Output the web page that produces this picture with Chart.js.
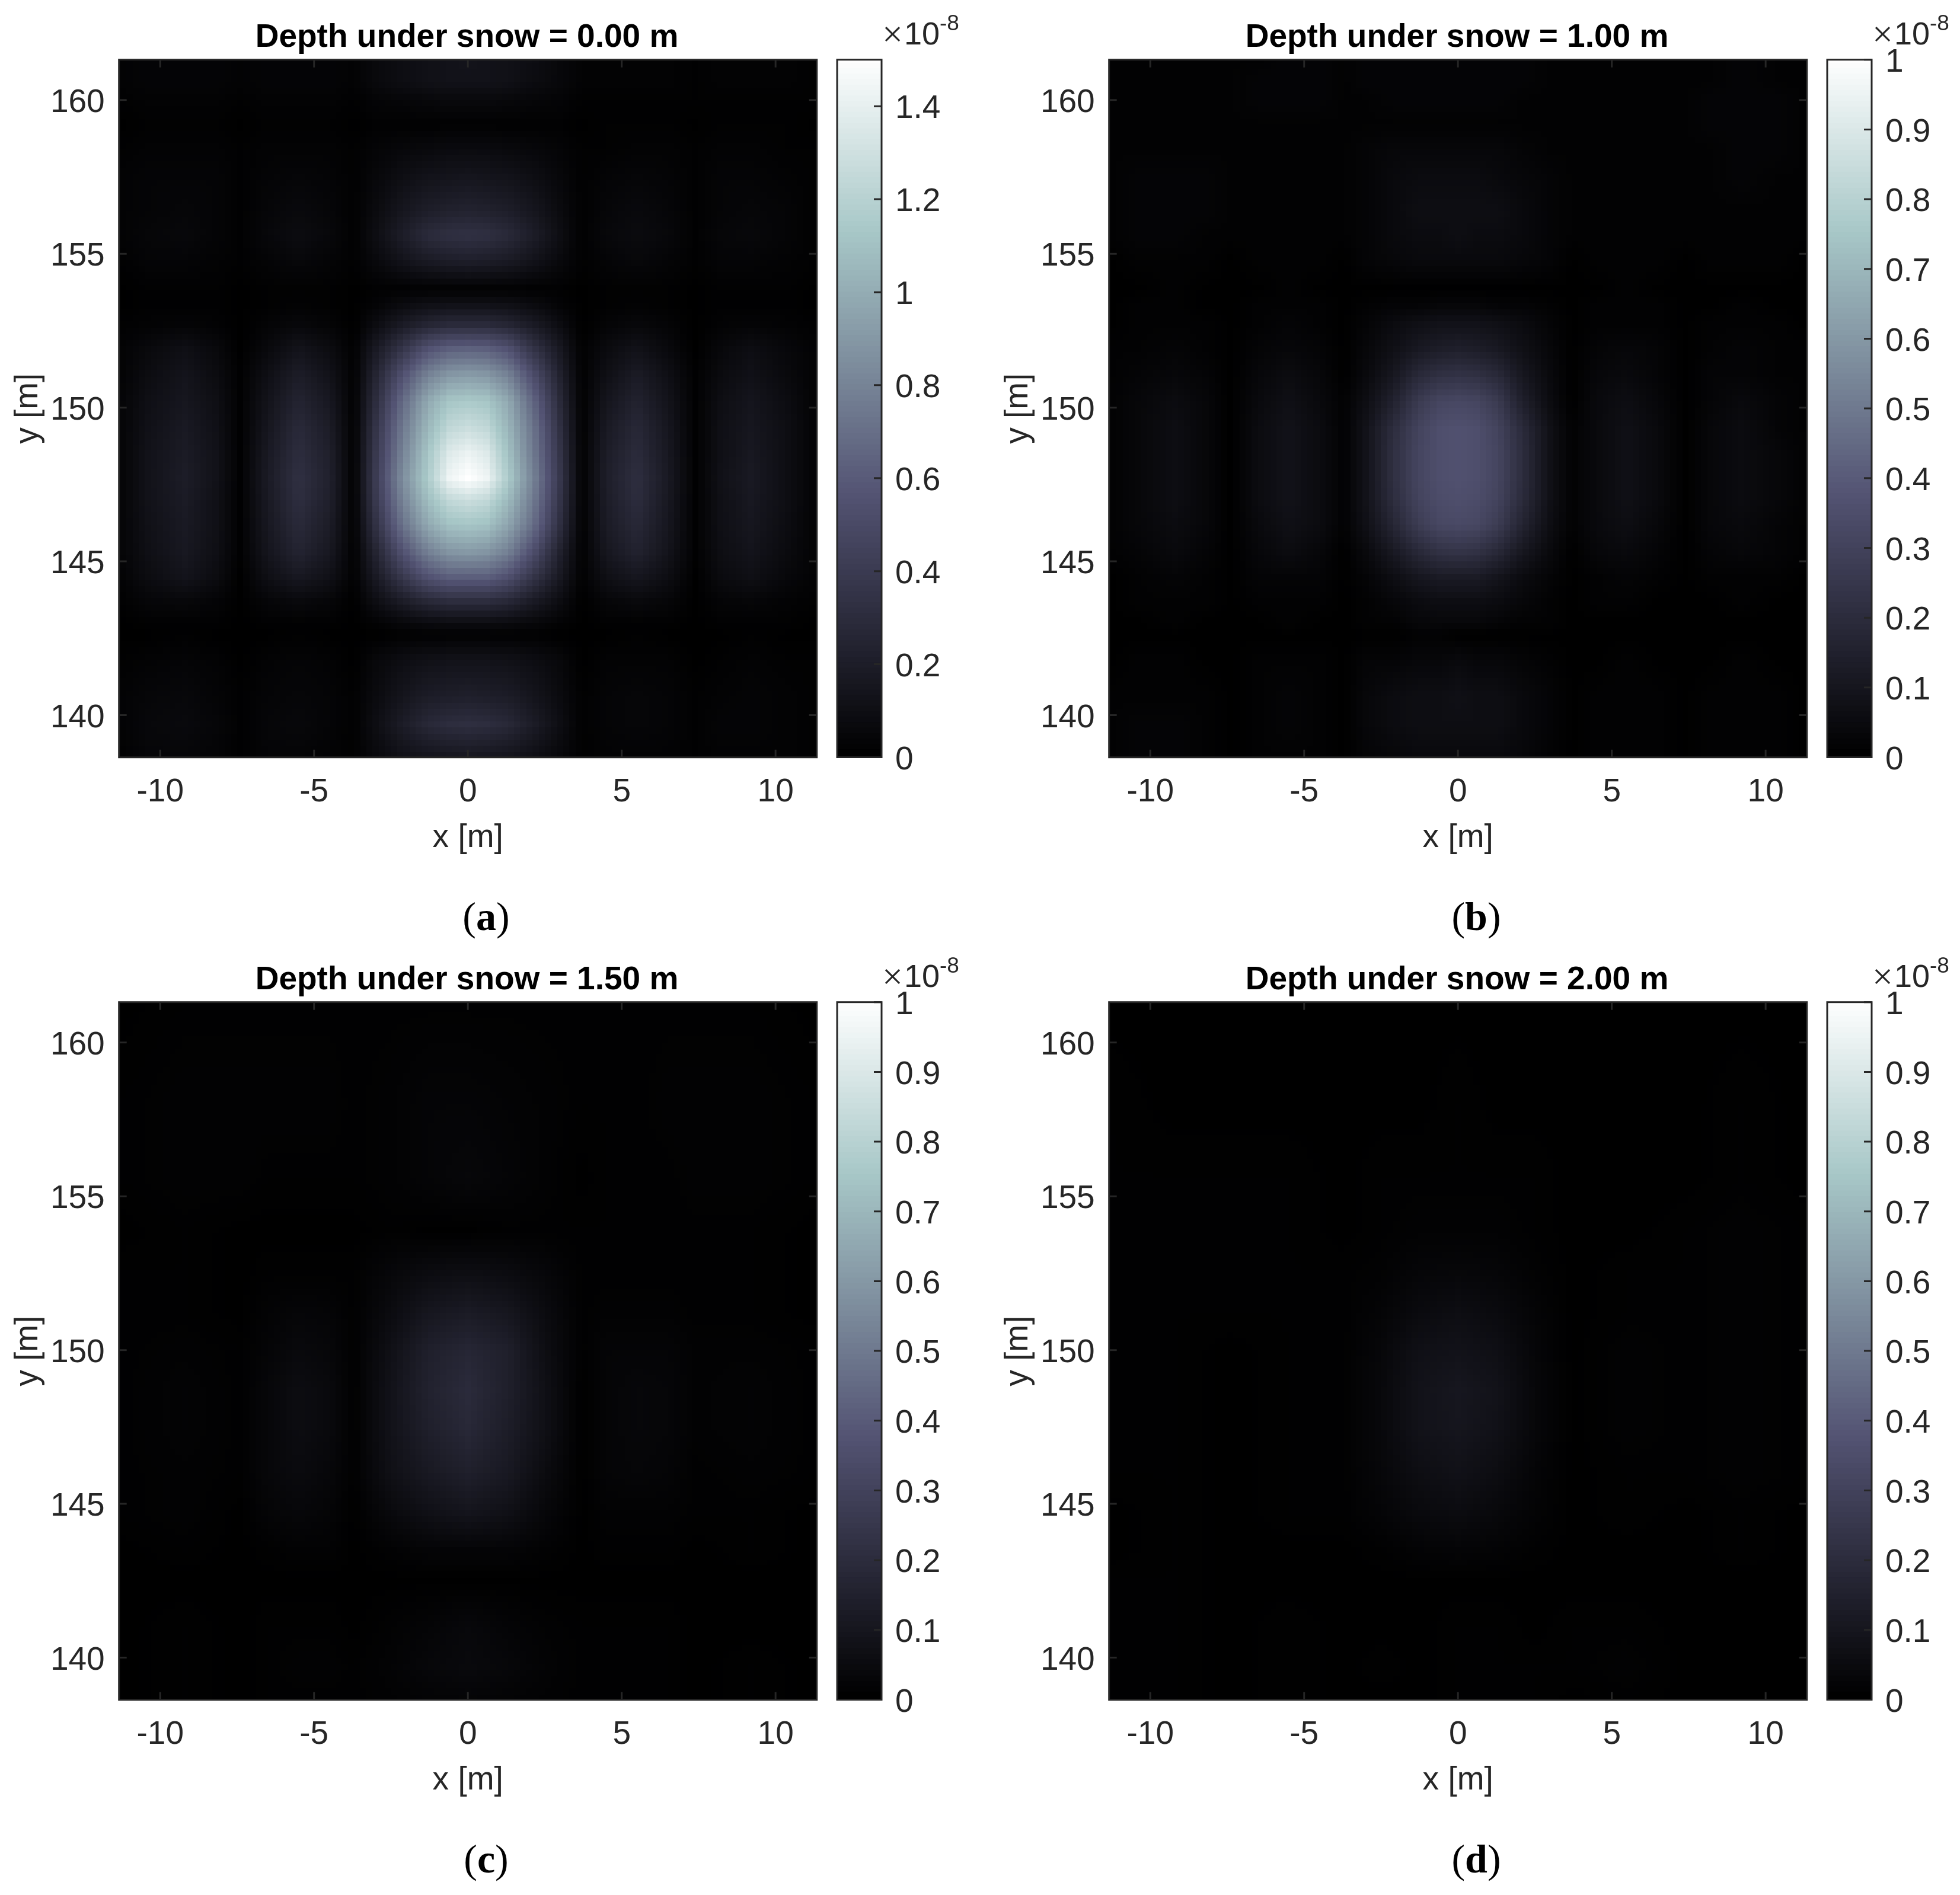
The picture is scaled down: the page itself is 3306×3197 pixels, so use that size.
<!DOCTYPE html>
<html><head><meta charset="utf-8">
<script src="https://cdn.jsdelivr.net/npm/chart.js@4/dist/chart.umd.min.js"></script>
<style>
html,body{margin:0;padding:0;background:#fff}
#root{position:relative;width:3306px;height:3197px;overflow:hidden;background:#fff}
canvas{position:absolute}
.t{position:absolute;white-space:nowrap;color:#262626;font-family:"Liberation Sans",Arial,sans-serif}
.cap{position:absolute;white-space:nowrap;color:#000;font-family:"Liberation Serif",serif;font-size:68px;line-height:68px;transform:translateX(-50%)}
</style></head><body><div id="root"></div>
<script>
// ---------- data (values in units of 1e-10) ----------
const titles = ["Depth under snow = 0.00 m","Depth under snow = 1.00 m","Depth under snow = 1.50 m","Depth under snow = 2.00 m"];
const captions = ["a","b","c","d"];
const xTicks = [-10,-5,0,5,10];
const yTicks = [140,145,150,155,160];
const cbTicksA = [0,0.2,0.4,0.6,0.8,1,1.2,1.4];
const cbTicksB = [0,0.1,0.2,0.3,0.4,0.5,0.6,0.7,0.8,0.9,1];
const cbMax = [1.5,1,1,1];
const fineXs = [-11.3,-10.4,-9.2,-8.2,-7.4,-6.5,-5.5,-4.5,-3.7,-3,-2.1,-1.3,-0.6,0,0.6,1.3,2.1,3,3.7,4.5,5.5,6.5,7.4,8.2,9.2,10.4,11.3];
const fineYs = [161.3,160.6,160,159.2,158.4,157.4,156.4,155.6,154.8,153.85,153.3,152.7,151.9,151.1,150.2,149.3,148.5,147.7,147,146.2,145.3,144.5,143.7,143,142.6,141.8,140.6,139.7,138.6];
const midXs = [-11.3,-9.2,-7.4,-6.5,-5.5,-4.5,-3.7,-2.5,-1.3,0,1.3,2.5,3.7,4.5,5.5,6.5,7.4,9.2,11.3];
const coarseXs = [-11.3,-9.2,-7.4,-5.5,-3.7,-2.5,-1.3,0,1.3,2.5,3.7,5.5,7.4,9.2,11.3];
const coarseYs = [161.3,158,155.6,153.85,152.5,151.2,150,148.7,147.5,146,144.7,143.5,142.5,141,139.7,138.6];
const panelA = [
[2,3,3,3,2,3,3,3,2,6,9,11,12,13,12,11,9,5,2,2,2,2,1,2,2,2,1],
[2,3,3,3,2,3,3,3,2,6,9,11,12,12,12,11,8,5,2,2,2,2,1,2,2,2,1],
[1,2,2,2,1,2,2,2,1,3,4,5,6,6,6,5,4,3,1,1,1,1,1,1,1,1,1],
[0,1,1,1,0,1,1,1,0,1,1,1,1,1,1,1,1,1,0,1,1,1,0,1,1,1,0],
[1,2,2,2,1,2,2,2,1,3,5,6,7,7,7,6,5,3,1,1,2,2,1,2,2,1,1],
[2,3,3,3,1,3,4,3,1,5,10,13,14,15,14,13,10,5,1,3,4,3,1,3,3,2,1],
[2,3,4,3,1,4,6,4,1,7,15,20,22,23,22,20,15,7,1,4,6,4,1,3,4,3,1],
[2,4,5,3,1,5,8,5,1,9,20,29,32,33,32,28,20,9,1,5,7,5,1,4,5,3,1],
[1,3,3,2,1,3,5,3,1,6,13,18,20,21,20,18,13,6,1,3,5,3,1,3,3,2,1],
[0,1,1,1,0,1,1,1,0,1,1,1,1,1,1,1,1,1,0,1,1,1,0,1,1,1,0],
[0,1,1,1,0,1,2,1,0,3,8,11,12,12,12,11,8,3,0,1,2,1,0,1,1,1,0],
[1,2,3,2,0,3,5,3,0,8,18,25,28,28,28,25,18,8,0,3,5,3,0,2,3,2,1],
[2,6,10,6,0,6,13,8,1,17,36,55,62,63,62,55,35,16,1,7,12,6,0,5,9,5,2],
[2,8,13,8,1,10,19,12,1,24,54,78,88,90,88,78,52,22,1,10,18,10,1,7,11,6,2],
[3,10,15,10,1,13,24,16,1,30,68,98,112,114,112,98,66,28,1,14,23,13,1,9,14,8,2],
[3,11,17,11,1,15,28,19,1,35,75,105,124,128,124,104,73,32,1,17,27,15,1,10,15,9,2],
[3,12,18,12,1,17,30,21,1,38,80,112,136,142,136,110,76,35,1,19,29,16,1,10,16,9,2],
[3,12,19,12,1,18,32,22,1,40,85,115,143,150,143,115,80,37,1,20,31,17,1,11,17,9,2],
[3,12,18,11,1,17,31,21,1,38,80,108,124,128,124,106,76,35,1,19,30,16,1,10,16,9,2],
[3,11,17,11,1,16,28,19,1,33,72,98,110,112,110,96,70,31,1,18,27,15,1,10,15,8,2],
[3,10,16,10,1,14,24,16,1,24,55,78,88,90,88,78,53,22,1,15,23,13,1,9,13,7,2],
[2,8,13,8,0,10,16,11,1,17,38,55,62,62,62,54,36,16,1,10,15,9,0,7,10,5,2],
[1,4,5,3,0,4,6,4,0,9,19,27,30,30,30,27,18,8,0,4,6,4,0,3,4,2,1],
[0,1,1,1,0,1,1,1,0,2,5,7,8,8,8,7,5,2,0,1,1,1,0,1,1,1,0],
[0,0,1,0,0,0,1,0,0,0,1,1,1,1,1,1,1,0,0,0,1,0,0,0,1,0,0],
[1,2,3,2,0,2,3,2,0,5,9,11,12,12,12,11,9,5,0,2,2,2,0,1,2,1,1],
[2,4,5,3,1,3,4,3,1,7,14,19,20,21,20,19,14,7,1,3,4,3,1,2,3,2,1],
[2,5,6,4,1,4,5,3,1,9,19,27,30,31,30,27,19,9,1,3,4,3,1,3,3,2,1],
[1,4,4,3,1,3,3,2,1,6,11,13,14,15,14,13,10,5,1,2,2,2,1,2,2,2,1]];
const panelB = [
[1,1,1,1,1,1,2,2,1,2,2,2,2,2,2,2,2,1,1,1,1,1,1,1,2,1,1],
[1,1,1,1,1,2,2,2,1,2,2,2,2,2,2,2,2,1,1,1,1,1,1,1,2,1,1],
[1,1,1,1,1,2,2,2,1,1,2,2,2,2,2,2,1,1,1,1,1,1,1,2,2,2,1],
[1,1,1,1,1,1,1,1,1,1,1,1,1,1,1,1,1,1,1,1,1,1,1,2,2,2,1],
[1,1,1,1,1,1,1,1,1,2,3,3,3,3,3,3,2,1,1,1,1,1,1,1,2,2,1],
[1,2,2,2,1,1,1,1,1,2,4,5,5,5,5,4,3,2,1,1,1,1,1,1,2,1,1],
[1,2,2,2,1,1,1,1,1,2,4,6,6,6,6,6,4,2,1,1,1,1,1,1,1,1,1],
[1,2,2,1,1,1,1,1,1,2,4,5,5,6,5,5,4,2,1,1,1,1,1,1,1,1,1],
[0,1,1,1,0,1,1,1,0,2,3,4,4,4,4,4,3,2,0,1,1,1,0,1,1,1,0],
[0,0,1,0,0,0,1,0,0,0,0,0,0,0,0,0,0,0,0,0,1,0,0,0,0,0,0],
[0,1,1,0,0,1,1,1,0,1,2,2,3,3,3,2,2,1,0,1,1,1,0,0,1,0,0],
[0,1,1,1,0,1,2,1,0,2,5,7,8,8,8,7,5,2,0,1,1,1,0,1,1,1,0],
[1,1,2,1,0,2,3,2,0,3,7,11,13,14,13,11,7,3,0,2,3,2,0,1,2,1,1],
[1,2,3,2,0,3,5,3,0,4,10,18,21,22,21,18,10,4,0,3,4,2,0,2,2,1,1],
[1,3,5,3,0,4,7,4,1,6,15,26,31,32,31,26,14,5,0,4,6,3,0,2,4,2,1],
[1,3,6,3,0,5,8,5,1,8,20,30,35,36,35,30,19,7,1,4,7,4,0,3,5,2,1],
[1,3,6,3,0,5,8,5,1,8,21,31,35,36,35,31,20,7,1,4,7,4,0,3,5,3,1],
[1,3,6,3,0,5,8,5,1,8,21,31,35,36,35,31,20,7,1,4,7,4,0,3,5,3,1],
[1,3,6,3,0,5,8,5,1,8,20,30,34,35,34,30,19,7,1,4,7,4,0,3,5,3,1],
[1,3,5,3,0,4,7,5,1,7,17,27,32,33,32,27,16,6,1,4,6,3,0,3,4,2,1],
[1,2,4,2,0,3,5,3,0,4,11,18,22,23,22,18,10,4,0,3,4,2,0,2,3,2,1],
[0,1,2,1,0,2,2,2,0,2,6,10,12,12,12,9,5,2,0,1,2,1,0,1,1,1,0],
[0,1,1,1,0,1,1,1,0,1,3,5,6,6,6,5,3,1,0,1,1,0,0,0,1,0,0],
[0,0,1,0,0,0,1,0,0,1,1,3,3,3,3,2,1,1,0,0,0,0,0,0,0,0,0],
[0,0,0,0,0,0,0,0,0,0,0,1,1,0,0,0,0,0,0,0,0,0,0,0,0,0,0],
[0,1,1,0,0,1,1,1,0,2,2,3,3,4,3,3,2,1,0,0,1,0,0,0,1,0,0],
[1,1,1,1,0,1,2,1,0,3,5,6,6,7,6,6,4,2,0,1,1,1,0,1,1,1,0],
[1,2,2,1,0,1,2,1,0,3,5,6,6,6,6,6,4,2,0,1,1,1,0,1,1,1,0],
[1,2,2,1,0,1,1,1,0,2,3,4,4,4,4,4,3,1,0,1,1,1,0,1,1,1,0]];
const panelC = [
[0,.5,.5,.5,.5,.5,.5,.5,.5,.5,.5,.5,.5,.5,.5,.5,.5,.5,0],
[.5,1,1,1,1,1,.5,1,2,2,1.5,1,.5,.5,.5,1,1,1,.5],
[.5,1,1,.5,.5,.5,.5,1,2,3,2,1,0,.5,.5,.5,1,1,.5],
[0,.5,0,0,0,0,0,.5,0,0,.5,.5,.5,.5,.5,.5,.5,.5,0],
[.5,.5,0,.5,.5,.5,.5,3,5,6,5,3,.5,.5,.5,.5,.5,.5,0],
[.5,.5,0,1.5,2.5,2,.5,5,10,12,10,5,.5,1,1,1,.5,.5,0],
[.5,1,.5,2,4,3,.5,7,14,17,14,6,.5,2,2,2,1,1,.5],
[.5,1.5,.5,3,5.5,4,.5,8,15,19,14,7,0,2,3,2.5,1,1.5,.5],
[.5,1.5,.5,3,5.5,4,.5,8,14,18,13,7,0,2,3,2.5,1,1.5,.5],
[.5,1,.5,3,4.5,3,.5,7,11,14,11,5,0,2,2.5,2,.5,1,.5],
[.5,1,0,2,3,2,0,4,7,9,7,3,0,1,1,1,.5,.5,0],
[0,.5,0,.5,1,1,0,1,2,2,2,1,0,.5,.5,.5,0,.5,0],
[0,0,0,0,0,0,0,0,0,0,0,0,0,0,0,0,0,0,0],
[0,.5,0,.5,.5,.5,0,1,2,3.5,2,1,.5,.5,.5,.5,0,0,0],
[0,.5,0,.5,1,1,.5,1.5,3,4,3,1.5,.5,.5,.5,.5,0,.5,0],
[0,.5,0,.5,.5,.5,.5,1,1.5,2,1.5,1,.5,.5,.5,.5,0,.5,0]];
const panelD = [
[0,0,0,0,0,0,0,0,0,0,0,0,0,0,0],
[.5,0,0,0,0,0,0,.5,0,0,0,0,0,.5,0],
[.5,.5,.5,.5,0,.5,.5,.5,.5,.5,0,0,0,.5,0],
[.5,.5,.5,.5,0,.5,1,1,1,.5,0,0,.5,1,.5],
[.5,.5,.5,.5,.5,1,2.5,3,2.5,1,0,.5,.5,1,.5],
[.5,.5,.5,.5,.5,2,4.5,6,4.5,2,0,.5,.5,1,.5],
[.5,.5,0,.5,.5,3,7,8,6.5,2.5,0,1,.5,1,.5],
[.5,.5,0,.5,.5,3.5,8,10,8,3,0,1,.5,1,.5],
[.5,.5,0,.5,.5,3.5,8,9.5,7.5,3,0,1,.5,1,.5],
[.5,.5,0,.5,.5,3,6,7.5,5.5,2,0,.5,.5,1,.5],
[0,.5,0,.5,.5,2,4,5,3.5,1.5,0,.5,0,.5,0],
[0,.5,0,0,0,.5,1.5,2,1.5,.5,0,0,0,.5,0],
[.5,.5,0,0,0,0,0,0,0,0,0,0,0,0,0],
[.5,.5,0,.5,0,0,0,.5,.5,0,.5,.5,0,0,0],
[.5,.5,0,.5,0,.5,0,.5,.5,.5,.5,1,0,0,0],
[.5,.5,0,.5,0,0,0,.5,.5,.5,0,.5,0,0,0]];
// MATLAB "bone" colormap stops
const boneT = [0,0.375,0.75,1];
const boneR = [0,0.328,0.656,1];
const boneG = [0,0.328,0.781,1];
const boneB = [0,0.453,0.781,1];
// ---------- styling ----------
const INK = '#262626', FF = '"Liberation Sans",Arial,sans-serif', TICKPX = 55, TICKLEN = 12, LW = 3;
const BLOCK = 0.2, CB_LEVELS = 128;
const X_RANGE = [-11.34,11.34], Y_RANGE = [138.63,161.31];
const AREA = {left:200.7, top:100.7, size:1177};
const COL_DX = 1670, ROW_DY = 1590;
const panels = [
 {rows:panelA, xs:fineXs, ys:fineYs, ticks:cbTicksA},
 {rows:panelB, xs:fineXs, ys:fineYs, ticks:cbTicksB},
 {rows:panelC, xs:midXs, ys:coarseYs, ticks:cbTicksB},
 {rows:panelD, xs:coarseXs, ys:coarseYs, ticks:cbTicksB}];

function bone(t){
  t = Math.min(1,Math.max(0,t));
  let i = 0; while(i<boneT.length-2 && t>boneT[i+1]) i++;
  const f = (t-boneT[i])/(boneT[i+1]-boneT[i]);
  const c = a => Math.round(255*(a[i]+(a[i+1]-a[i])*f));
  return 'rgb('+c(boneR)+','+c(boneG)+','+c(boneB)+')';
}
function lookup(xs,ys,rows,x,y){
  let i=0; while(i<xs.length-2 && x>xs[i+1]) i++;
  let j=0; while(j<ys.length-2 && y<ys[j+1]) j++;
  const fx=Math.min(1,Math.max(0,(x-xs[i])/(xs[i+1]-xs[i])));
  const fy=Math.min(1,Math.max(0,(y-ys[j])/(ys[j+1]-ys[j])));
  const top=rows[j][i]*(1-fx)+rows[j][i+1]*fx, bot=rows[j+1][i]*(1-fx)+rows[j+1][i+1]*fx;
  return top*(1-fy)+bot*fy;
}
const heatPlugin = {
  id:'heat',
  beforeDatasetsDraw(chart,args,o){
    const {ctx,chartArea:a,scales:{x:sx,y:sy}} = chart;
    ctx.save(); ctx.beginPath(); ctx.rect(a.left,a.top,a.right-a.left,a.bottom-a.top); ctx.clip();
    ctx.fillStyle='#000'; ctx.fillRect(a.left,a.top,a.right-a.left,a.bottom-a.top);
    for(let i=-58;i<=58;i++){
      const x=i*BLOCK;
      const x0=Math.round(sx.getPixelForValue(x-BLOCK/2)), x1=Math.round(sx.getPixelForValue(x+BLOCK/2));
      for(let j=-58;j<=72;j++){
        const y=147.7+j*BLOCK;
        if(y<Y_RANGE[0]-BLOCK||y>Y_RANGE[1]+BLOCK) continue;
        const y0=Math.round(sy.getPixelForValue(y+BLOCK/2)), y1=Math.round(sy.getPixelForValue(y-BLOCK/2));
        ctx.fillStyle=bone(lookup(o.xs,o.ys,o.rows,x,y)/100/o.cmax);
        ctx.fillRect(x0,y0,x1-x0,y1-y0);
      }
    }
    ctx.restore();
  }
};
const framePlugin = {
  id:'frame',
  afterDraw(chart,args,o){
    const {ctx,chartArea:a,scales:s} = chart;
    ctx.save(); ctx.strokeStyle=INK; ctx.lineWidth=LW;
    ctx.strokeRect(a.left,a.top,a.right-a.left,a.bottom-a.top);
    ctx.beginPath();
    if(o.bothSides){
      s.x.ticks.forEach(t=>{const p=s.x.getPixelForValue(t.value);
        ctx.moveTo(p,a.top);ctx.lineTo(p,a.top+TICKLEN+1);ctx.moveTo(p,a.bottom);ctx.lineTo(p,a.bottom-TICKLEN-1);});
      s.y.ticks.forEach(t=>{const p=s.y.getPixelForValue(t.value);
        ctx.moveTo(a.left,p);ctx.lineTo(a.left+TICKLEN+1,p);ctx.moveTo(a.right,p);ctx.lineTo(a.right-TICKLEN-1,p);});
    } else {
      s.y.ticks.forEach(t=>{const p=s.y.getPixelForValue(t.value);
        ctx.moveTo(a.right,p);ctx.lineTo(a.right-TICKLEN-1,p);});
    }
    ctx.stroke(); ctx.restore();
  }
};
const root = document.getElementById('root');
function addCanvas(l,t,w,h){
  const c=document.createElement('canvas'); c.width=w;c.height=h;
  c.style.left=l+'px';c.style.top=t+'px';c.style.width=w+'px';c.style.height=h+'px';
  root.appendChild(c); return c;
}
function addText(txt,l,base,fs,extra){
  const s=document.createElement('span'); s.className='t'; s.textContent=txt;
  s.style.left=l+'px'; s.style.fontSize=fs+'px'; s.style.lineHeight=fs+'px';
  s.style.top=(base-0.8465*fs)+'px';
  if(extra) Object.assign(s.style,extra);
  root.appendChild(s);
}
function tickFont(){return {family:FF,size:TICKPX,lineHeight:1};}

panels.forEach((p,idx)=>{
  const dx=(idx%2)*COL_DX, dy=Math.floor(idx/2)*ROW_DY;
  const W=1575, H=1448;
  const heatPoints=[];
  p.ys.forEach((y,j)=>p.xs.forEach((x,i)=>heatPoints.push({x,y,v:p.rows[j][i]})));
  new Chart(addCanvas(dx,dy,W,H),{
    type:'scatter',
    data:{datasets:[{label:titles[idx],data:heatPoints,pointRadius:0,showLine:false}]},
    plugins:[heatPlugin,framePlugin],
    options:{
      responsive:false,maintainAspectRatio:false,animation:false,
      layout:{autoPadding:false,padding:0},
      plugins:{
        legend:{display:false},tooltip:{enabled:false},
        title:{display:true,text:titles[idx],color:'#000',font:{family:FF,size:55,weight:'bold',lineHeight:1},padding:{top:36.5,bottom:AREA.top-36.5-55}},
        heat:{xs:p.xs,ys:p.ys,rows:p.rows,cmax:cbMax[idx]},
        frame:{bothSides:true}
      },
      scales:{
        x:{type:'linear',min:X_RANGE[0],max:X_RANGE[1],
          afterBuildTicks:s=>{s.ticks=xTicks.map(v=>({value:v}));},
          afterFit:s=>{s.height=H-AREA.top-AREA.size;},
          grid:{display:false,drawTicks:false},border:{display:false},
          ticks:{color:INK,font:tickFont(),padding:32,maxRotation:0,autoSkip:false,callback:v=>String(v)},
          title:{display:true,text:'x [m]',color:INK,font:tickFont(),padding:{top:0,bottom:7}}},
        y:{type:'linear',min:Y_RANGE[0],max:Y_RANGE[1],
          afterBuildTicks:s=>{s.ticks=yTicks.map(v=>({value:v}));},
          afterFit:s=>{s.width=AREA.left;},
          grid:{display:false,drawTicks:false},border:{display:false},
          ticks:{color:INK,font:tickFont(),padding:24,labelOffset:5,autoSkip:false,callback:v=>String(v)},
          title:{display:true,text:'y [m]',color:INK,font:tickFont(),padding:{top:20,bottom:0}}},
        margin:{type:'linear',position:'right',min:0,max:1,
          afterFit:s=>{s.width=W-AREA.left-AREA.size;},
          grid:{display:false,drawTicks:false},border:{display:false},ticks:{display:false}}
      }
    }
  });
  // colour bar
  const cbL=1412+dx, cbW=75, cW=240, cH=1328;
  const step=cbMax[idx]/CB_LEVELS, cbSets=[];
  for(let k=0;k<CB_LEVELS;k++){
    cbSets.push({data:[[k*step,(k+1.4)*step]],backgroundColor:bone((k+.5)/CB_LEVELS),borderWidth:0,barPercentage:1,categoryPercentage:1});
  }
  new Chart(addCanvas(cbL-2,dy,cW,cH),{
    type:'bar',
    data:{labels:['colorbar'],datasets:cbSets},
    plugins:[framePlugin],
    options:{
      responsive:false,maintainAspectRatio:false,animation:false,
      layout:{autoPadding:false,padding:{left:2,right:0,top:AREA.top,bottom:0}},
      plugins:{legend:{display:false},tooltip:{enabled:false},title:{display:false},frame:{bothSides:false}},
      scales:{
        x:{type:'category',stacked:true,display:true,grid:{display:false,drawTicks:false},border:{display:false},ticks:{display:false},afterFit:s=>{s.height=0;}},
        y:{type:'linear',position:'right',min:0,max:cbMax[idx],
          afterBuildTicks:s=>{s.ticks=p.ticks.map(v=>({value:v}));},
          afterFit:s=>{s.width=cW-2-cbW;},
          grid:{display:false,drawTicks:false},border:{display:false},
          ticks:{color:INK,font:tickFont(),padding:23,labelOffset:5,autoSkip:false,callback:v=>String(v)}}
      }
    }
  });
  // exponent label and caption
  addText('×',1488+dx,78+dy,62,{fontFamily:'"Liberation Serif",serif',fontWeight:'normal'});
  addText('10',1525+dx,75+dy,54);
  addText('-8',1585+dx,51+dy,37);
  const cap=document.createElement('div'); cap.className='cap';
  cap.style.left=(820+dx)+'px'; cap.style.top=(1512+dy)+'px';
  cap.innerHTML='(<b>'+captions[idx]+'</b>)';
  root.appendChild(cap);
});
</script></body></html>
